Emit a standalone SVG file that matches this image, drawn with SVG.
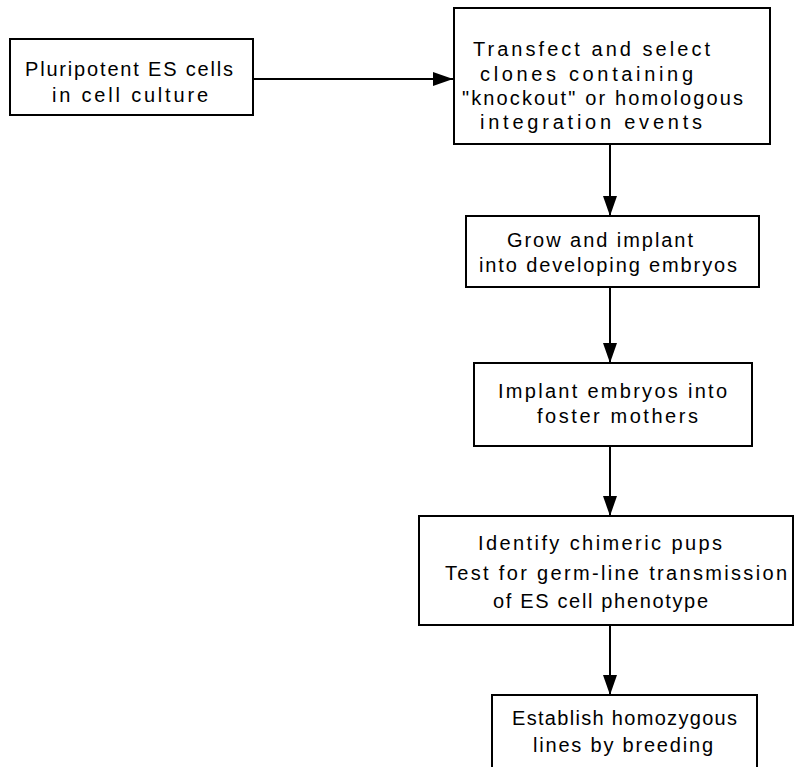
<svg xmlns="http://www.w3.org/2000/svg" width="796" height="767" viewBox="0 0 796 767">
<style>
.box{fill:#fff;stroke:#000;stroke-width:2}
.lbl{font-family:"Liberation Sans",Arial,sans-serif;font-size:20px;fill:#000}
.edge{stroke:#000;stroke-width:2;fill:none}
</style>
<defs>
<marker id="ah" markerUnits="userSpaceOnUse" markerWidth="20" markerHeight="14" refX="20" refY="7" orient="auto">
<path d="M0,0 L20,7 L0,14 Z" fill="#000"/>
</marker>
</defs>
<rect width="796" height="767" fill="#fff"/>
<g id="connectors">
<line class="edge" x1="253" y1="79" x2="453" y2="79" marker-end="url(#ah)"/>
<line class="edge" x1="610" y1="144" x2="610" y2="216" marker-end="url(#ah)"/>
<line class="edge" x1="610" y1="287" x2="610" y2="363" marker-end="url(#ah)"/>
<line class="edge" x1="610" y1="446" x2="610" y2="516" marker-end="url(#ah)"/>
<line class="edge" x1="610" y1="625" x2="610" y2="695" marker-end="url(#ah)"/>
</g>
<g id="n1">
<rect class="box" x="10" y="39" width="243" height="76"/>
<text class="lbl" x="25" y="76" textLength="208" lengthAdjust="spacing">Pluripotent  ES cells</text>
<text class="lbl" x="52" y="102" textLength="156" lengthAdjust="spacing">in cell  culture</text>
</g>
<g id="n2">
<rect class="box" x="454" y="8" width="316" height="136"/>
<text class="lbl" x="473" y="56" textLength="237" lengthAdjust="spacing">Transfect  and  select</text>
<text class="lbl" x="480" y="81" textLength="213" lengthAdjust="spacing">clones  containing</text>
<text class="lbl" x="462" y="105" textLength="281" lengthAdjust="spacing">"knockout" or homologous</text>
<text class="lbl" x="480" y="129" textLength="222" lengthAdjust="spacing">integration  events</text>
</g>
<g id="n3">
<rect class="box" x="466" y="216" width="293" height="71"/>
<text class="lbl" x="507" y="247" textLength="186" lengthAdjust="spacing">Grow  and  implant</text>
<text class="lbl" x="479" y="272" textLength="258" lengthAdjust="spacing">into  developing  embryos</text>
</g>
<g id="n4">
<rect class="box" x="474" y="363" width="278" height="83"/>
<text class="lbl" x="498" y="398" textLength="229" lengthAdjust="spacing">Implant  embryos into</text>
<text class="lbl" x="537" y="423" textLength="161" lengthAdjust="spacing">foster mothers</text>
</g>
<g id="n5">
<rect class="box" x="419" y="516" width="374" height="109"/>
<text class="lbl" x="478" y="550" textLength="244" lengthAdjust="spacing">Identify  chimeric pups</text>
<text class="lbl" x="445" y="580" textLength="342" lengthAdjust="spacing">Test for  germ-line  transmission</text>
<text class="lbl" x="493" y="608" textLength="215" lengthAdjust="spacing">of ES  cell phenotype</text>
</g>
<g id="n6">
<rect class="box" x="492" y="695" width="265" height="80"/>
<text class="lbl" x="512" y="725" textLength="225" lengthAdjust="spacing">Establish  homozygous</text>
<text class="lbl" x="533" y="752" textLength="180" lengthAdjust="spacing">lines  by  breeding</text>
</g>
</svg>
